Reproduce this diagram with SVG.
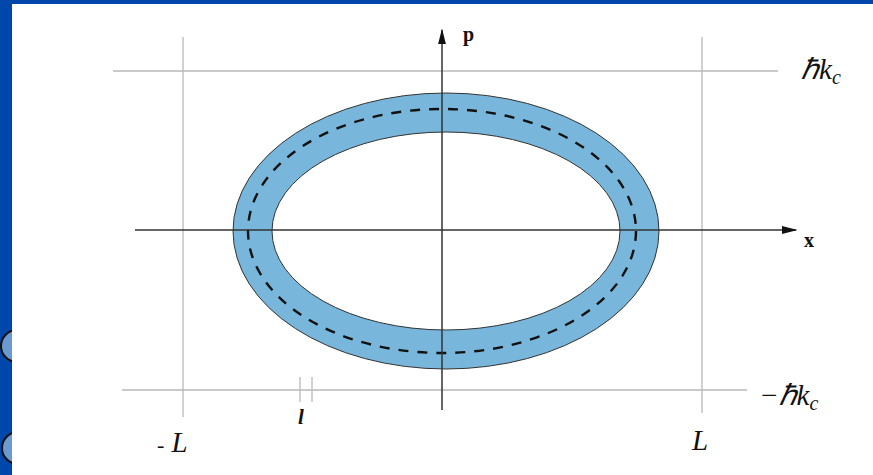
<svg xmlns="http://www.w3.org/2000/svg" width="873" height="475" viewBox="0 0 873 475">
<style>
.grid{stroke:#b8b8b8;stroke-width:1.3;fill:none}
.axis{stroke:#333;stroke-width:1.5;fill:none}
.lbl{font-family:"Liberation Serif",serif;font-style:italic;fill:#111}
.bold{font-family:"Liberation Serif",serif;font-weight:bold;fill:#111}
</style>
<defs>
<marker id="arrL" viewBox="0 0 10 10" refX="9" refY="5" markerWidth="16" markerHeight="10" markerUnits="userSpaceOnUse" orient="auto" preserveAspectRatio="none">
<path d="M0,1 L10,5 L0,9 Z" fill="#111"/>
</marker>
</defs>
<rect width="873" height="475" fill="#0047AB"/>
<circle cx="17" cy="346" r="16" fill="#6A9AD0" stroke="#111" stroke-width="2"/>
<circle cx="18" cy="448" r="16" fill="#6A9AD0" stroke="#111" stroke-width="2"/>
<rect x="12" y="4" width="861" height="471" fill="#fff"/>
<g id="grid">
<line class="grid" x1="113" y1="71" x2="778" y2="71"/>
<line class="grid" x1="122" y1="390" x2="747" y2="390"/>
<line class="grid" x1="183" y1="37" x2="183" y2="417"/>
<line class="grid" x1="702" y1="37" x2="702" y2="413"/>
<line class="grid" x1="300" y1="377" x2="300" y2="402"/>
<line class="grid" x1="312" y1="377" x2="312" y2="402"/>
</g>
<g id="ring">
<path d="M233,231 a213,138 0 1,0 426,0 a213,138 0 1,0 -426,0 Z M272,231 a174,99 0 1,0 348,0 a174,99 0 1,0 -348,0 Z" fill="#78B6DB" fill-rule="evenodd" stroke="#333" stroke-width="1"/>
<ellipse cx="442" cy="231" rx="194" ry="122" fill="none" stroke="#111" stroke-width="2.4" stroke-dasharray="10,9"/>
</g>
<g id="connectors">
<line class="axis" x1="135" y1="230" x2="796" y2="230" marker-end="url(#arrL)"/>
<line class="axis" x1="442" y1="410" x2="442" y2="30" marker-end="url(#arrL)"/>
</g>
<g id="labels">
<text class="bold" x="463" y="41" font-size="20">p</text>
<text class="bold" x="804" y="247" font-size="20">x</text>
<text class="lbl" x="801" y="79" font-size="29">ℏk<tspan font-size="20" dy="5">c</tspan></text>
<text class="lbl" x="759" y="405" font-size="29">−ℏk<tspan font-size="20" dy="5">c</tspan></text>
<text class="lbl" x="157" y="452" font-size="29"><tspan font-style="normal" font-size="22">-</tspan> L</text>
<text class="lbl" x="692" y="450" font-size="29">L</text>
<text class="lbl" x="298" y="424" font-size="21" font-weight="bold">l</text>
</g>
</svg>
